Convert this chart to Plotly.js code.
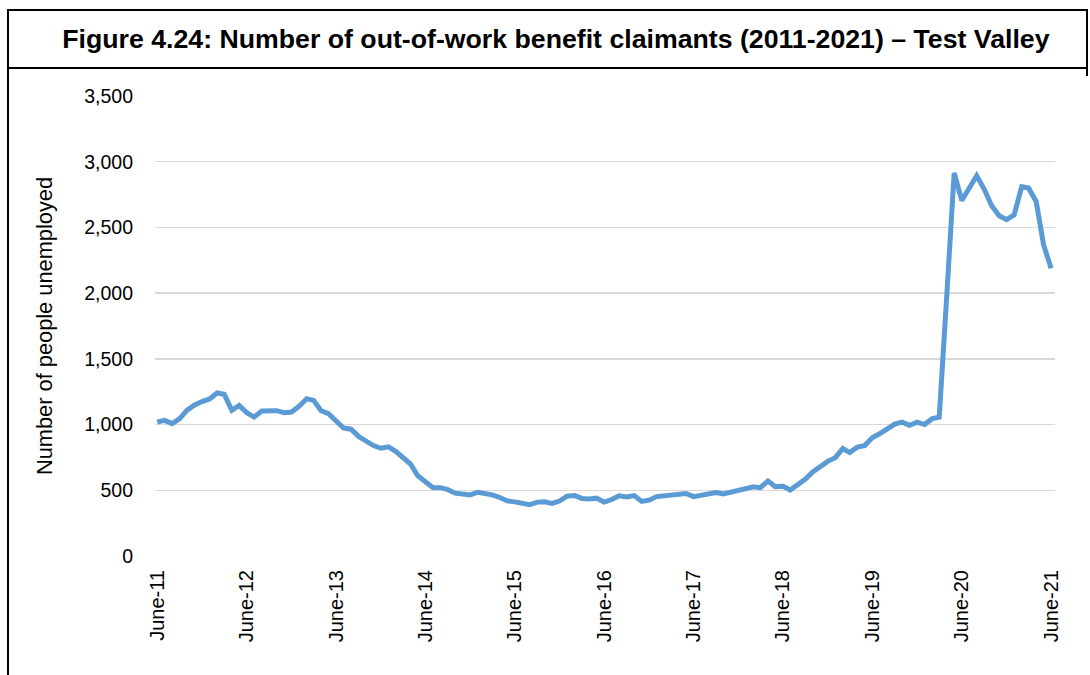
<!DOCTYPE html>
<html>
<head>
<meta charset="utf-8">
<script src="https://cdn.plot.ly/plotly-3.0.1.min.js"></script>
<style>
html,body{margin:0;padding:0;background:#fff;}
#chart{width:1090px;height:675px;}
</style>
</head>
<body>
<div id="chart"></div>
<script>
// Monthly claimant counts, June 2011 to June 2021
var startMonth = '2011-06-01';
var claimants = [
  1020, 1032, 1007, 1045, 1110, 1150, 1175, 1195, 1240, 1230, 1108, 1146,
  1090, 1057, 1103, 1100, 1106, 1090, 1095, 1140, 1197, 1184, 1105, 1083,
  1025, 974, 965, 910, 875, 840, 820, 830, 795, 750, 700, 610,
  560, 521, 520, 505, 478, 470, 465, 485, 478, 465, 445, 420,
  412, 405, 390, 410, 413, 400, 418, 455, 460, 438, 433, 440,
  410, 430, 458, 450, 460, 415, 425, 452, 458, 455, 462, 476,
  452, 462, 478, 482, 472, 485, 500, 505, 526, 520, 571, 528,
  530, 502, 545, 585, 640, 680, 720, 748, 818, 787, 828, 840,
  900, 930, 967, 1003, 1018, 995, 1018, 1000, 1045, 1056, 1990, 2915,
  2705, 2790, 2893, 2790, 2665, 2589, 2559, 2595, 2810, 2800, 2698, 2370,
  2190
];
var yTicks = [0, 500, 1000, 1500, 2000, 2500, 3000, 3500];
var chartTitle = 'Figure 4.24: Number of out-of-work benefit claimants (2011-2021) \u2013 Test Valley';
var yTitle = 'Number of people unemployed';

// month dates for each value
var months = [];
(function(){
  var y = 2011, m = 6;
  for (var i = 0; i < claimants.length; i++) {
    months.push(y + '-' + (m < 10 ? '0' + m : m) + '-01');
    m++; if (m > 12) { m = 1; y++; }
  }
})();

// plot area in pixels: x 155..1055, y 96..556
var L = 155, R = 35, T = 96, B = 119, W = 1090, H = 675;
var pw = W - L - R, ph = H - T - B;
function px(x){ return (x - L) / pw; }
function py(y){ return (H - B - y) / ph; }

var font = 'Liberation Sans, Arial, sans-serif';

var trace = {
  x: months,
  y: claimants,
  type: 'scatter',
  mode: 'lines',
  line: {color: '#5B9BD5', width: 5},
  hoverinfo: 'x+y'
};

var lineStyle = {color: '#000', width: 2};
var layout = {
  width: W, height: H,
  margin: {l: L, r: R, t: T, b: B},
  paper_bgcolor: '#fff',
  plot_bgcolor: '#fff',
  showlegend: false,
  title: {
    text: '<b>' + chartTitle + '</b>',
    font: {family: font, size: 26.7, color: '#000'},
    x: 0.51, xanchor: 'center',
    y: 1 - 39 / H, yanchor: 'middle'
  },
  xaxis: {
    type: 'date',
    range: ['2011-05-23', '2021-06-17'],
    tick0: '2011-06-01',
    dtick: 'M12',
    tickformat: '%B-%y',
    tickangle: -90,
    showgrid: false,
    zeroline: false,
    showline: false,
    ticks: '',
    ticklabelstandoff: 9,
    tickfont: {family: font, size: 20, color: '#000'},
    fixedrange: true
  },
  yaxis: {
    range: [0, 3500],
    tickvals: yTicks,
    tickformat: ',d',
    showgrid: true,
    gridcolor: '#D9D9D9',
    gridwidth: 1.5,
    zeroline: false,
    showline: false,
    ticks: '',
    ticklabelstandoff: 21,
    tickfont: {family: font, size: 19.5, color: '#000'},
    title: {text: yTitle, font: {family: font, size: 21.8, color: '#000'}, standoff: 25},
    fixedrange: true
  },
  shapes: [
    {type: 'line', xref: 'paper', yref: 'paper', x0: px(8), x1: px(1087), y0: py(10), y1: py(10), line: lineStyle},
    {type: 'line', xref: 'paper', yref: 'paper', x0: px(8), x1: px(1087), y0: py(68), y1: py(68), line: lineStyle},
    {type: 'line', xref: 'paper', yref: 'paper', x0: px(8), x1: px(8), y0: py(9), y1: py(676), line: lineStyle},
    {type: 'line', xref: 'paper', yref: 'paper', x0: px(1087), x1: px(1087), y0: py(9), y1: py(76), line: lineStyle}
  ]
};

Plotly.newPlot('chart', [trace], layout, {displayModeBar: false, staticPlot: true});
</script>
</body>
</html>
